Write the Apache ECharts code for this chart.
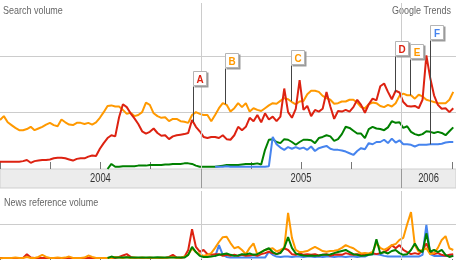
<!DOCTYPE html>
<html><head><meta charset="utf-8">
<script src="https://cdn.jsdelivr.net/npm/echarts@6/dist/echarts.min.js"></script>
<style>html,body{margin:0;padding:0;background:#fff}#c{width:456px;height:260px}</style>
</head><body><div id="c"></div>
<script>
// ---------- data ----------
const startDate = '2004-01-01';
const endDate = '2006-04-11';
const years = ['2004', '2005', '2006'];
const titleSearch = 'Search volume';
const titleNews = 'News reference volume';
const brand = 'Google Trends';

// weekly search volume (relative)
const orangeFrom = '2004-01-01';
const orangeSearch = [0.87,0.94,0.83,0.78,0.73,0.69,0.69,0.71,0.75,0.69,
0.72,0.75,0.79,0.82,0.78,0.76,0.88,0.83,0.79,0.78,
0.82,0.82,0.80,0.82,0.79,0.83,0.91,1.01,1.12,1.13,
1.11,1.11,1.05,0.98,1.00,0.94,0.96,1.01,1.18,1.14,
0.99,0.94,0.91,0.92,0.85,0.89,0.89,0.85,0.84,0.82,
0.96,1.01,0.98,0.96,0.96,0.85,0.96,1.08,1.17,1.14,
1.02,1.08,1.17,1.10,1.17,1.02,1.08,1.05,1.03,1.08,
1.13,1.17,1.16,1.21,1.26,1.24,1.19,1.15,1.20,1.21,
1.33,1.39,1.39,1.37,1.30,1.26,1.23,1.16,1.17,1.20,
1.20,1.23,1.23,1.18,1.10,1.08,1.15,1.18,1.17,1.12,
1.10,1.14,1.11,1.17,1.30,1.34,1.31,1.31,1.25,1.32,
1.29,1.23,1.21,1.19,1.17,1.17,1.17,1.23,1.37];
const redFrom = '2004-01-01';
const redSearch = [0.13,0.13,0.13,0.13,0.13,0.13,0.14,0.16,0.11,0.14,
0.15,0.16,0.16,0.17,0.19,0.20,0.20,0.19,0.17,0.15,
0.18,0.19,0.19,0.22,0.24,0.23,0.36,0.46,0.55,0.60,
0.58,0.92,1.15,1.10,0.99,0.90,0.80,0.67,0.63,0.66,
0.72,0.64,0.59,0.60,0.53,0.58,0.60,0.61,0.62,0.64,
0.87,0.75,0.67,0.57,0.55,0.57,0.57,0.55,0.60,0.53,
0.52,0.60,0.75,0.69,0.75,0.91,0.85,0.96,0.83,0.99,
0.88,0.93,0.85,0.93,1.43,1.01,0.91,1.07,1.58,1.05,
1.12,0.94,1.05,1.02,1.07,1.37,1.11,0.89,1.03,1.02,
1.05,1.02,1.10,1.23,1.14,1.00,1.15,1.25,1.22,1.47,
1.52,1.37,1.24,1.39,1.36,1.19,1.12,1.11,1.12,1.08,
1.23,2.02,1.62,1.31,1.14,1.07,1.08,1.01,1.08];
const greenFrom = '2004-07-15';
const greenSearch = [0.00,0.09,0.04,0.04,0.05,0.05,0.05,0.05,0.06,0.06,
0.06,0.07,0.07,0.07,0.07,0.08,0.08,0.09,0.09,0.09,
0.10,0.10,0.09,0.06,0.04,0.04,0.04,0.04,0.04,0.05,
0.06,0.07,0.07,0.07,0.07,0.08,0.09,0.09,0.09,0.10,
0.08,0.34,0.52,0.53,0.48,0.46,0.53,0.52,0.48,0.43,
0.48,0.52,0.52,0.51,0.46,0.55,0.57,0.60,0.58,0.50,
0.53,0.62,0.75,0.73,0.68,0.63,0.63,0.55,0.71,0.75,
0.72,0.71,0.69,0.74,0.85,0.82,0.83,0.73,0.76,0.66,
0.62,0.60,0.62,0.67,0.66,0.64,0.66,0.64,0.60,0.67,
0.74];
const blueFrom = '2005-01-27';
const blueSearch = [0.04,0.04,0.04,0.05,0.04,0.04,0.04,0.04,0.04,0.04,
0.04,0.04,0.04,0.04,0.05,0.57,0.44,0.38,0.34,0.39,
0.36,0.39,0.36,0.38,0.34,0.40,0.32,0.37,0.39,0.41,
0.36,0.34,0.34,0.33,0.31,0.28,0.25,0.32,0.37,0.35,
0.46,0.44,0.48,0.48,0.52,0.46,0.54,0.47,0.51,0.44,
0.44,0.43,0.40,0.43,0.43,0.43,0.44,0.44,0.44,0.45,
0.47,0.48,0.48];

// weekly news reference volume
const orangeNews = [0.02,0.03,0.03,0.03,0.04,0.03,0.03,0.06,0.03,0.03,
0.06,0.12,0.06,0.03,0.03,0.04,0.03,0.04,0.07,0.03,
0.03,0.03,0.04,0.10,0.06,0.03,0.03,0.03,0.03,0.03,
0.06,0.04,0.03,0.06,0.03,0.04,0.03,0.04,0.03,0.04,
0.03,0.03,0.04,0.03,0.04,0.06,0.03,0.04,0.07,0.12,
0.30,0.20,0.14,0.09,0.12,0.17,0.32,0.49,0.63,0.64,
0.46,0.31,0.35,0.26,0.14,0.32,0.45,0.13,0.20,0.26,
0.29,0.31,0.22,0.26,0.32,1.33,0.61,0.26,0.20,0.21,
0.23,0.29,0.35,0.29,0.23,0.21,0.23,0.24,0.26,0.32,
0.40,0.35,0.31,0.23,0.16,0.17,0.16,0.20,0.46,0.32,
0.26,0.32,0.40,0.43,0.55,0.61,1.00,1.35,0.40,0.21,
0.26,0.31,0.14,0.17,0.32,0.55,0.66,0.31,0.26];
const redNews = [0.03,0.03,0.03,0.03,0.03,0.03,0.03,0.14,0.04,0.03,
0.03,0.03,0.03,0.03,0.03,0.03,0.03,0.03,0.03,0.03,
0.03,0.03,0.03,0.03,0.03,0.03,0.03,0.03,0.03,0.03,
0.03,0.06,0.10,0.14,0.06,0.03,0.03,0.03,0.03,0.03,
0.03,0.03,0.03,0.03,0.06,0.12,0.04,0.03,0.06,0.26,
0.86,0.35,0.21,0.26,0.14,0.12,0.14,0.14,0.09,0.12,
0.09,0.12,0.09,0.12,0.09,0.10,0.12,0.09,0.14,0.17,
0.21,0.17,0.14,0.20,0.31,0.26,0.14,0.12,0.17,0.12,
0.14,0.12,0.14,0.10,0.12,0.14,0.09,0.12,0.13,0.12,
0.17,0.14,0.12,0.14,0.12,0.12,0.14,0.17,0.14,0.17,
0.20,0.26,0.40,0.31,0.40,0.26,0.20,0.14,0.17,0.14,
0.26,0.45,0.20,0.14,0.17,0.12,0.09,0.12,0.14];
const greenNews = [0.03,0.07,0.04,0.04,0.04,0.05,0.04,0.04,0.04,0.04,
0.04,0.04,0.04,0.05,0.04,0.04,0.04,0.04,0.04,0.04,
0.04,0.12,0.35,0.20,0.09,0.06,0.06,0.07,0.09,0.12,
0.14,0.16,0.12,0.09,0.10,0.14,0.13,0.16,0.12,0.14,
0.20,0.26,0.31,0.20,0.14,0.17,0.32,0.63,0.32,0.16,
0.12,0.10,0.09,0.10,0.09,0.10,0.12,0.12,0.13,0.17,
0.20,0.23,0.26,0.20,0.14,0.12,0.09,0.10,0.12,0.14,
0.57,0.16,0.20,0.16,0.23,0.26,0.17,0.12,0.14,0.26,
0.45,0.26,0.20,0.74,0.21,0.26,0.20,0.26,0.12,0.06,
0.09];
const blueNews = [0.06,0.40,0.12,0.06,0.04,0.04,0.04,0.04,0.04,0.04,
0.04,0.04,0.04,0.04,0.21,0.12,0.07,0.06,0.07,0.07,
0.06,0.07,0.07,0.06,0.07,0.07,0.06,0.07,0.06,0.07,
0.07,0.06,0.07,0.07,0.06,0.07,0.07,0.06,0.07,0.07,
0.12,0.14,0.14,0.12,0.09,0.07,0.07,0.07,0.07,0.07,
0.07,0.07,0.07,0.07,0.12,0.98,0.14,0.09,0.09,0.09,
0.09,0.09,0.09];

// news event flags
const flagLetters = ['A', 'B', 'C', 'D', 'E', 'F'];
const flagDates = ['2004-12-18', '2005-02-14', '2005-06-14', '2005-12-21', '2006-01-17', '2006-02-22'];
const flagSeries = ['red', 'orange', 'orange', 'red', 'orange', 'blue'];

// ---------- styles ----------
const COLORS = { orange: '#ff9900', red: '#dd2211', green: '#008000', blue: '#4684ee' };
const FONT_FAMILY = '"Liberation Sans", Arial, sans-serif';
const NARROW = 0.78;

// ---------- helpers ----------
const DAY = 86400000;
const dayOf = d => (Date.parse(d) - Date.parse(startDate)) / DAY;
const toPoints = (from, vals) => vals.map((v, k) => [dayOf(from) + 7 * k, v]);
const xMax = dayOf(endDate);

const search = {
  orange: toPoints(orangeFrom, orangeSearch),
  red: toPoints(redFrom, redSearch),
  green: toPoints(greenFrom, greenSearch),
  blue: toPoints(blueFrom, blueSearch)
};
const news = {
  orange: toPoints(orangeFrom, orangeNews),
  red: toPoints(redFrom, redNews),
  green: toPoints(greenFrom, greenNews),
  blue: toPoints(blueFrom, blueNews)
};
function interp(points, d) {
  for (let k = 0; k < points.length - 1; k++) {
    const a = points[k], b = points[k + 1];
    if (d >= a[0] && d <= b[0]) return a[1] + (b[1] - a[1]) * (d - a[0]) / (b[0] - a[0]);
  }
  return points[points.length - 1][1];
}
const yearLines = years.slice(1).map(y => ({ xAxis: dayOf(y + '-01-01') }));
const yearMids = years.map((y, k) => {
  const a = Math.max(0, dayOf(y + '-01-01'));
  const b = Math.min(xMax, dayOf((+y + 1) + '-01-01'));
  return [(a + b) / 2, 0.5, k];
});
const flagData = flagLetters.map((L, k) => {
  const d = dayOf(flagDates[k]);
  return [d, interp(search[flagSeries[k]], d), k];
});

function markYears(color) {
  return {
    silent: true, symbol: ['none', 'none'], label: { show: false },
    lineStyle: { color: color, width: 1, type: 'solid' },
    emphasis: { disabled: true }, animation: false, data: yearLines
  };
}

const xBase = { type: 'value', min: 0, max: xMax, interval: 91.5,
  axisLabel: { show: false }, splitLine: { show: false }, axisLine: { show: false } };

function lineSeries(points, color, gi, z, withMark) {
  const s = { type: 'line', xAxisIndex: gi, yAxisIndex: gi, data: points,
    symbol: 'none', showSymbol: false, z: z, animation: false, silent: true,
    lineStyle: { color: color, width: 2 }, itemStyle: { color: color } };
  if (withMark) s.markLine = markYears('#cccccc');
  return s;
}

function narrowText(x, y, text, align, size, fill) {
  return { type: 'text', x: x, y: y, scaleX: NARROW, silent: true,
    style: { text: text, x: 0, y: 0, align: align, verticalAlign: 'top', fill: fill,
      font: size + 'px ' + FONT_FAMILY } };
}

const chart = echarts.init(document.getElementById('c'), null, { renderer: 'canvas' });
chart.setOption({
  animation: false,
  backgroundColor: '#ffffff',
  grid: [
    { left: 0, right: 0, top: 3, height: 166 },
    { left: 0, right: 0, top: 169, height: 19, show: true, backgroundColor: '#ececec', borderColor: '#cfcfcf', borderWidth: 1 },
    { left: 0, right: 0, top: 191, height: 68 }
  ],
  xAxis: [
    Object.assign({}, xBase, { gridIndex: 0, position: 'bottom',
      axisTick: { show: true, inside: true, length: 7, lineStyle: { color: '#777' } } }),
    Object.assign({}, xBase, { gridIndex: 1, axisTick: { show: false } }),
    Object.assign({}, xBase, { gridIndex: 2, position: 'top', offset: 3,
      axisTick: { show: true, inside: true, length: 5, lineStyle: { color: '#777' } } })
  ],
  yAxis: [
    { gridIndex: 0, type: 'value', min: 0, max: 2.95, interval: 1,
      axisLabel: { show: false }, axisLine: { show: false }, axisTick: { show: false },
      splitLine: { show: true, showMinLine: false, showMaxLine: false, lineStyle: { color: '#cccccc' } } },
    { gridIndex: 1, type: 'value', min: 0, max: 1, show: false, splitLine: { show: false } },
    { gridIndex: 2, type: 'value', min: 0, max: 1.96, interval: 1,
      axisLabel: { show: false }, axisLine: { show: false }, axisTick: { show: false },
      splitLine: { show: true, showMinLine: false, showMaxLine: false, lineStyle: { color: '#cccccc' } } }
  ],
  series: [
    lineSeries(search.orange, COLORS.orange, 0, 2, true),
    lineSeries(search.red, COLORS.red, 0, 3, false),
    lineSeries(search.green, COLORS.green, 0, 4, false),
    lineSeries(search.blue, COLORS.blue, 0, 5, false),
    lineSeries(news.blue, COLORS.blue, 2, 2, true),
    lineSeries(news.red, COLORS.red, 2, 3, false),
    lineSeries(news.orange, COLORS.orange, 2, 4, false),
    lineSeries(news.green, COLORS.green, 2, 5, false),
    {
      type: 'scatter', xAxisIndex: 1, yAxisIndex: 1, data: yearMids, symbolSize: 1,
      itemStyle: { color: 'rgba(0,0,0,0)' }, silent: true, animation: false,
      label: { show: false },
      markLine: markYears('#999999')
    },
    {
      type: 'custom', xAxisIndex: 1, yAxisIndex: 1, data: yearMids, z: 10, clip: false,
      silent: true, animation: false,
      renderItem: function (params, api) {
        const p = api.coord([api.value(0), api.value(1)]);
        return { type: 'text', x: p[0], y: p[1], scaleX: NARROW,
          style: { text: years[api.value(2)], x: 0, y: 0, align: 'center', verticalAlign: 'middle',
            fill: '#333', font: '12px ' + FONT_FAMILY } };
      }
    },
    {
      type: 'custom', xAxisIndex: 0, yAxisIndex: 0, data: flagData, z: 20, clip: false,
      silent: true, animation: false,
      renderItem: function (params, api) {
        const k = api.value(2);
        const p = api.coord([api.value(0), api.value(1)]);
        const px = Math.round(p[0]) + 0.5;
        let bottom = p[1] - 36;
        Object.keys(search).forEach(name => {
          search[name].forEach(pt => {
            const q = api.coord(pt);
            if (q[0] >= p[0] - 6 && q[0] <= p[0] + 16) bottom = Math.min(bottom, q[1] - 15);
          });
        });
        bottom = Math.round(bottom) + 0.5;
        const w = 14, h = 15;
        const color = COLORS[flagSeries[k]];
        return { type: 'group', children: [
          { type: 'line', shape: { x1: px, y1: p[1], x2: px, y2: bottom }, style: { stroke: '#444', lineWidth: 1 } },
          { type: 'rect', shape: { x: px + 1, y: bottom - h + 1, width: w, height: h }, style: { fill: '#9a9a9a' } },
          { type: 'rect', shape: { x: px, y: bottom - h, width: w - 1, height: h - 1 }, style: { fill: '#ffffff', stroke: '#b5b5b5', lineWidth: 1 } },
          { type: 'text', x: px + (w - 1) / 2, y: bottom - (h - 1) / 2, scaleX: 0.9,
            style: { text: flagLetters[k], x: 0, y: 0,
              align: 'center', verticalAlign: 'middle', fill: color,
              font: 'bold 11px ' + FONT_FAMILY } }
        ] };
      }
    }
  ],
  graphic: [
    narrowText(3, 5, titleSearch, 'left', 11.5, '#666'),
    narrowText(451, 5, brand, 'right', 11.5, '#666'),
    narrowText(4, 197, titleNews, 'left', 11.5, '#666')
  ]
});
</script>
</body></html>
